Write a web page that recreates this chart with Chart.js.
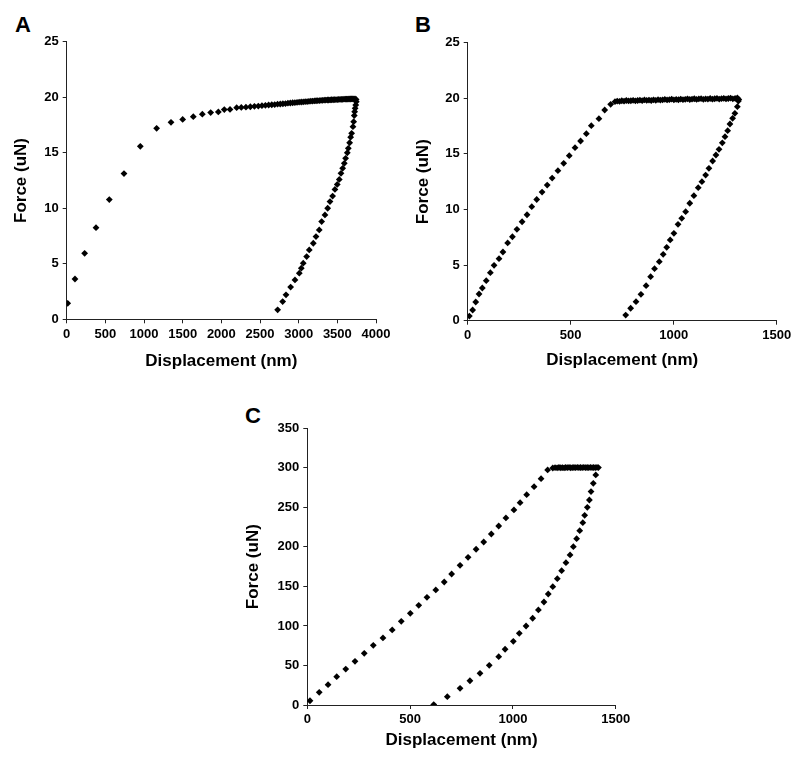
<!DOCTYPE html>
<html>
<head>
<meta charset="utf-8">
<title>Force vs displacement</title>
<script src="https://cdn.jsdelivr.net/npm/chart.js@4.4.1/dist/chart.umd.min.js"></script>
<style>
    body { margin: 0; background: #fff; width: 800px; height: 761px; position: relative; overflow: hidden; font-family: 'Liberation Sans', Arial, sans-serif; }
    canvas { position: absolute; }
    .panel { position: absolute; font-weight: bold; font-size: 22px; line-height: 22px; color: #000; }
</style>
</head>
<body>
<div class="panel" style="left:15px;top:14px">A</div>
<div class="panel" style="left:415px;top:14px">B</div>
<div class="panel" style="left:245px;top:405px">C</div>
<canvas id="chartA" width="400" height="380" style="left:0;top:0"></canvas>
<canvas id="chartB" width="400" height="380" style="left:400px;top:0"></canvas>
<canvas id="chartC" width="410" height="376" style="left:230px;top:385px"></canvas>
<script>
// Panel A - loading / unloading, displacement in nm, force in uN
var aLoadX = [13, 107, 232, 379, 551, 741, 952, 1163, 1349, 1500, 1637, 1754, 1862, 1961, 2038, 2112, 2198,
    2258, 2318, 2375, 2428, 2478, 2525, 2570, 2612, 2652, 2690, 2727, 2762, 2796, 2829, 2861, 2892, 2922,
    2951, 2979, 3006, 3033, 3059, 3084, 3109, 3133, 3157, 3180, 3203, 3225, 3247, 3268, 3289, 3310, 3330,
    3350, 3370, 3389, 3408, 3427, 3446, 3464, 3482, 3500, 3518, 3535, 3552, 3569, 3586, 3603, 3619, 3635,
    3651, 3667, 3683, 3699, 3714, 3729, 3743];
var aLoadF = [1.44, 3.63, 5.94, 8.25, 10.78, 13.12, 15.58, 17.2, 17.74, 18.0, 18.25, 18.47, 18.62, 18.68, 18.89, 18.9, 19.06,
    19.08, 19.1, 19.14, 19.18, 19.2, 19.24, 19.27, 19.3, 19.32, 19.34, 19.37, 19.39, 19.41, 19.43, 19.46, 19.48, 19.5,
    19.51, 19.53, 19.55, 19.57, 19.58, 19.6, 19.61, 19.63, 19.64, 19.65, 19.67, 19.68, 19.69, 19.7, 19.71, 19.72, 19.73,
    19.74, 19.75, 19.75, 19.76, 19.77, 19.77, 19.78, 19.79, 19.79, 19.8, 19.8, 19.81, 19.81, 19.82, 19.82, 19.83, 19.83,
    19.84, 19.84, 19.85, 19.85, 19.85, 19.84, 19.8];
var aUnloadX = [3745, 3738, 3730, 3724, 3719, 3711, 3702, 3685, 3672, 3659, 3642, 3629, 3607, 3590, 3569, 3547, 3525,
    3499, 3469, 3439, 3405, 3375, 3340, 3297, 3266, 3224, 3189, 3137, 3103, 3059, 3034, 3008, 2952, 2896, 2836,
    2793, 2728];
var aUnloadF = [19.6, 19.3, 19.0, 18.7, 18.35, 17.8, 17.35, 16.75, 16.4, 15.9, 15.4, 15.0, 14.5, 14.05, 13.6, 13.15, 12.6,
    12.15, 11.7, 11.1, 10.6, 10.0, 9.4, 8.8, 8.05, 7.45, 6.85, 6.25, 5.65, 5.05, 4.6, 4.15, 3.55, 2.9, 2.2,
    1.6, 0.85];

// Panel B
var bLoadX = [8, 24, 39, 55, 71, 90, 110, 128, 152, 171, 194, 217, 239, 264, 288, 311, 335, 361, 386, 410, 438, 466,
    493, 521, 548, 576, 600, 637, 665, 694,
    715, 726, 737, 748, 759, 770, 781, 792, 803, 814, 825, 836, 847, 858, 869, 880, 891, 902, 913, 924, 935, 946,
    957, 968, 979, 990, 1001, 1012, 1023, 1034, 1045, 1056, 1067, 1078, 1089, 1100, 1111, 1122, 1133, 1144, 1155,
    1166, 1177, 1188, 1199, 1210, 1221, 1232, 1243, 1254, 1265, 1276, 1287, 1298, 1309, 1316];
var bLoadF = [0.42, 0.96, 1.68, 2.4, 2.94, 3.6, 4.32, 4.98, 5.58, 6.18, 6.99, 7.55, 8.22, 8.9, 9.53, 10.25, 10.9, 11.57,
    12.2, 12.83, 13.49, 14.15, 14.84, 15.56, 16.16, 16.82, 17.54, 18.17, 18.95, 19.46,
    19.7, 19.75, 19.72, 19.78, 19.74, 19.8, 19.76, 19.78, 19.82, 19.77, 19.8, 19.83, 19.79, 19.85, 19.81, 19.84, 19.8,
    19.86, 19.82, 19.88, 19.84, 19.86, 19.9, 19.85, 19.88, 19.92, 19.86, 19.9, 19.87, 19.93, 19.88, 19.91, 19.95,
    19.89, 19.92, 19.96, 19.9, 19.94, 19.97, 19.91, 19.95, 19.93, 19.98, 19.92, 19.96, 19.99, 19.93, 19.97, 20.0,
    19.94, 19.98, 20.02, 19.95, 19.99, 20.03, 19.9];
var bUnloadX = [1314, 1309, 1297, 1286, 1273, 1262, 1249, 1236, 1220, 1205, 1189, 1171, 1155, 1137, 1119, 1098, 1078,
    1058, 1039, 1021, 1001, 983, 966, 949, 930, 907, 888, 866, 841, 817, 791, 767];
var bUnloadF = [19.75, 19.25, 18.65, 18.2, 17.69, 17.09, 16.55, 16.0, 15.41, 14.9, 14.36, 13.7, 13.1, 12.5, 11.96, 11.24,
    10.56, 9.8, 9.21, 8.67, 7.86, 7.26, 6.6, 5.97, 5.31, 4.68, 3.96, 3.15, 2.37, 1.71, 1.12, 0.51];

// Panel C
var cLoadX = [13, 58, 101, 143, 187, 232, 277, 321, 368, 413, 457, 501, 542, 582, 625, 666, 702, 743, 782, 821, 858,
    895, 931, 966, 1005, 1035, 1067, 1103, 1137, 1169,
    1194, 1205, 1215, 1224, 1233, 1241, 1249, 1257, 1265, 1273, 1281, 1289, 1297, 1305, 1313, 1321, 1329, 1337,
    1345, 1353, 1361, 1369, 1377, 1385, 1393, 1401, 1409, 1416];
var cLoadF = [5.4, 16.0, 25.7, 35.8, 45.5, 55.2, 65.4, 75.5, 84.8, 94.9, 105.9, 116.0, 126.1, 136.2, 145.5, 155.6, 165.7,
    176.7, 186.8, 197.0, 206.2, 216.3, 226.4, 236.6, 246.7, 255.9, 266.0, 276.2, 286.3, 297.3,
    299.8, 300.2, 300, 300.4, 300.1, 300.3, 300, 300.4, 300.2, 300.5, 300.1, 300.3, 300.4, 300.2, 300.5, 300.3,
    300.4, 300.2, 300.5, 300.3, 300.4, 300.2, 300.5, 300.3, 300.4, 300.2, 300.5, 300.3];
var cUnloadX = [1403, 1391, 1380, 1372, 1362, 1349, 1340, 1325, 1310, 1294, 1278, 1258, 1237, 1216, 1194, 1172, 1151,
    1124, 1096, 1064, 1031, 1002, 962, 931, 885, 840, 791, 743, 681, 615];
var cUnloadF = [291, 280.4, 269.9, 259.3, 250, 239.9, 230.6, 220.5, 210.4, 200.3, 189.8, 180, 169.9, 159.8, 149.7, 140.4,
    130.3, 120.2, 109.7, 99.9, 90.7, 80.6, 70.5, 61.1, 50.2, 40.1, 30.7, 21.1, 10.5, 0.5];

var xTitle = 'Displacement (nm)';
var yTitle = 'Force (uN)';

function toPoints(xs, ys) {
    var pts = [];
    for (var i = 0; i < xs.length; i++) pts.push({ x: xs[i], y: ys[i] });
    return pts;
}

// plain numbers on the axes, no thousands separator
function plainTick(value) {
    return String(value);
}

function makeChart(id, load, unload, axes, box) {
    var tickFont = { family: "'Liberation Sans', Arial, sans-serif", size: 13, weight: 'bold' };
    var titleFont = { family: "'Liberation Sans', Arial, sans-serif", size: 17, weight: 'bold' };
    var grid = { display: true, drawOnChartArea: false, drawTicks: true, tickLength: 4, tickColor: '#222' };
    var marker = {
        showLine: false, pointStyle: 'rectRot', pointRadius: 3.4, pointBorderWidth: 0,
        backgroundColor: '#000', borderColor: '#000'
    };
    return new Chart(document.getElementById(id), {
        type: 'scatter',
        data: {
            datasets: [
                Object.assign({ label: 'Loading', data: load }, marker),
                Object.assign({ label: 'Unloading', data: unload }, marker)
            ]
        },
        options: {
            responsive: false,
            animation: false,
            devicePixelRatio: 1,
            layout: { padding: { left: 0, top: box.top, right: box.right, bottom: 0 } },
            plugins: { legend: { display: false }, tooltip: { enabled: false } },
            scales: {
                x: {
                    type: 'linear', min: 0, max: axes.xMax,
                    ticks: { stepSize: axes.xStep, font: tickFont, color: '#000', padding: 3, maxRotation: 0, autoSkip: false, callback: plainTick },
                    grid: grid,
                    border: { display: true, color: '#222', width: 1 },
                    title: { display: true, text: xTitle, font: titleFont, color: '#000', padding: { top: 0, bottom: box.xTitlePad } },
                    afterFit: function (scale) { scale.height = box.xHeight; }
                },
                y: {
                    type: 'linear', min: 0, max: axes.yMax,
                    ticks: { stepSize: axes.yStep, font: tickFont, color: '#000', padding: 4, callback: plainTick },
                    grid: grid,
                    border: { display: true, color: '#222', width: 1 },
                    title: { display: true, text: yTitle, font: titleFont, color: '#000', padding: { top: box.yTitlePad, bottom: 0 } },
                    afterFit: function (scale) { scale.width = box.yWidth; }
                }
            }
        }
    });
}

makeChart('chartA', toPoints(aLoadX, aLoadF), toPoints(aUnloadX, aUnloadF),
    { xMax: 4000, xStep: 500, yMax: 25, yStep: 5 },
    { top: 41.7, right: 24, yWidth: 66.7, xHeight: 60.7, yTitlePad: 11.5, xTitlePad: 8.8 });

makeChart('chartB', toPoints(bLoadX, bLoadF), toPoints(bUnloadX, bUnloadF),
    { xMax: 1500, xStep: 500, yMax: 25, yStep: 5 },
    { top: 42.7, right: 23.3, yWidth: 67.7, xHeight: 59.3, yTitlePad: 13.5, xTitlePad: 9.3 });

makeChart('chartC', toPoints(cLoadX, cLoadF), toPoints(cUnloadX, cUnloadF),
    { xMax: 1500, xStep: 500, yMax: 350, yStep: 50 },
    { top: 43.3, right: 24.3, yWidth: 77.3, xHeight: 56, yTitlePad: 13.5, xTitlePad: 10.1 });
</script>
</body>
</html>
